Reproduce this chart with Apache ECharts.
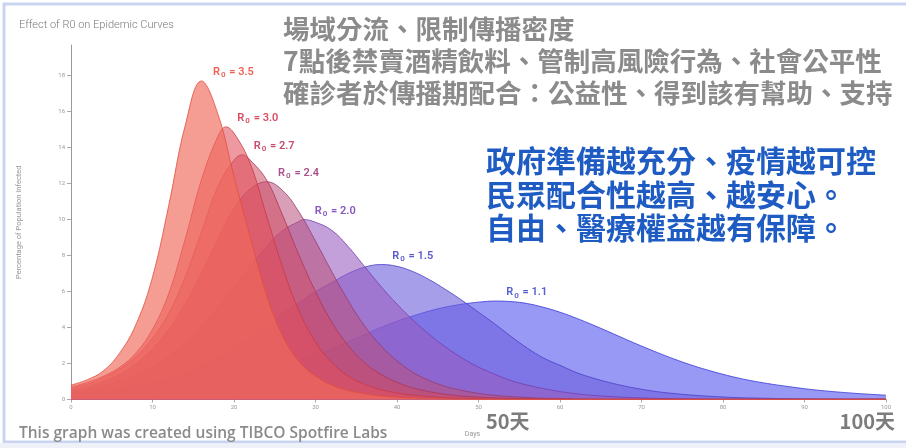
<!DOCTYPE html>
<html>
<head>
<meta charset="utf-8">
<script src="https://cdn.jsdelivr.net/npm/echarts@6/dist/echarts.min.js"></script>
<style>
  html, body { margin: 0; padding: 0; background: #fff; }
  #chart { width: 906px; height: 448px; }
</style>
</head>
<body>
<div id="chart"></div>
<script>
// Days since start (x axis)
const days = [0,2,4,6,8,10,12,14,16,18,20,22,24,26,28,30,32,34,36,38,40,42,44,46,48,50,
  52,54,56,58,60,62,64,66,68,70,72,74,76,78,80,82,84,86,88,90,92,94,96,98,100];

// Percentage of population infected, one curve per R0
const r35 = [0.8,1.1,1.6,2.6,4.2,6.8,10.8,15.2,17.7,15.9,12.4,9.0,5.8,3.5,2.1,1.3,0.8,0.5,0.32,0.2,0.13,0.08,0.05,0.03,0.02,0.01,
  0.01,0.01,0.01,0.01,0.01,0.01,0.01,0.01,0.01,0.01,0.01,0.01,0.01,0.01,0.01,0.01,0.01,0.01,0.01,0.01,0.01,0.01,0.01,0.01,0.01];
const r30 = [0.7,0.95,1.3,1.8,2.6,3.9,5.9,8.9,12.2,14.6,14.8,13.1,10.2,7.3,4.9,3.2,2.05,1.3,0.85,0.55,0.36,0.24,0.16,0.1,0.07,0.05,
  0.03,0.02,0.01,0.01,0.01,0.01,0.01,0.01,0.01,0.01,0.01,0.01,0.01,0.01,0.01,0.01,0.01,0.01,0.01,0.01,0.01,0.01,0.01,0.01,0.01];
const r27 = [0.6,0.85,1.2,1.7,2.4,3.4,4.8,6.8,9.3,11.8,13.3,13.3,12.2,10.2,8.0,6.0,4.3,3.0,2.05,1.4,0.95,0.64,0.43,0.29,0.19,0.13,
  0.09,0.06,0.04,0.03,0.02,0.01,0.01,0.01,0.01,0.01,0.01,0.01,0.01,0.01,0.01,0.01,0.01,0.01,0.01,0.01,0.01,0.01,0.01,0.01,0.01];
const r24 = [0.5,0.7,1.0,1.4,2.0,2.8,3.9,5.3,7.0,8.9,10.6,11.7,12.1,11.6,10.4,8.8,7.1,5.5,4.1,3.0,2.15,1.5,1.05,0.72,0.5,0.34,
  0.23,0.16,0.11,0.07,0.05,0.03,0.02,0.01,0.01,0.01,0.01,0.01,0.01,0.01,0.01,0.01,0.01,0.01,0.01,0.01,0.01,0.01,0.01,0.01,0.01];
const r20 = [0.4,0.55,0.75,1.0,1.35,1.8,2.4,3.15,4.1,5.1,6.2,7.4,8.5,9.4,9.9,9.85,9.4,8.5,7.4,6.3,5.3,4.4,3.6,2.9,2.3,1.8,
  1.4,1.05,0.8,0.6,0.44,0.32,0.23,0.17,0.12,0.09,0.06,0.045,0.03,0.02,0.01,0.01,0.01,0.01,0.01,0.01,0.01,0.01,0.01,0.01,0.01];
const r15 = [0.35,0.42,0.5,0.6,0.75,0.95,1.2,1.5,1.9,2.35,2.9,3.5,4.1,4.8,5.4,6.0,6.5,7.0,7.35,7.5,7.4,7.1,6.65,6.1,5.5,4.85,
  4.2,3.5,2.85,2.3,1.9,1.5,1.2,0.95,0.74,0.57,0.43,0.33,0.25,0.19,0.14,0.1,0.08,0.06,0.04,0.03,0.02,0.02,0.02,0.02,0.02];
const r11 = [0.3,0.36,0.42,0.5,0.58,0.67,0.77,0.88,1.0,1.13,1.28,1.45,1.65,1.88,2.15,2.45,2.8,3.2,3.6,4.0,4.35,4.65,4.92,5.14,5.3,5.41,
  5.47,5.44,5.33,5.12,4.85,4.52,4.15,3.76,3.36,2.97,2.6,2.25,1.93,1.65,1.4,1.18,1.0,0.85,0.72,0.6,0.5,0.42,0.35,0.29,0.24];

// Peak of each curve (day, percentage), added between the regular samples
const peakDays = [16, 19, 21, 24, 28.5, 38, 52];
const peakValues = [17.7, 15.15, 13.6, 12.1, 10.0, 7.5, 5.47];

// Curve names and tick labels
const r0Names = ['3.5','3.0','2.7','2.4','2.0','1.5','1.1'];
const curves = [r35, r30, r27, r24, r20, r15, r11];
const yTicks = [0,2,4,6,8,10,12,14,16,18];

// Styling per curve: fill, outline and label colours
const fillColors = ['#F26B5B','#E2505A','#D04A62','#B8507A','#9A5CC0','#6C5EDC','#5454EE'];
const edgeColors = ['#E0503F','#C93A48','#B03556','#963C70','#7440B0','#4A42C8','#3C3CD8'];
const labelColors = ['#EE6153','#DA4D60','#C64D6C','#A9528E','#8957BE','#5A58CE','#5560D0'];
const fillOpacity = [0.66,0.58,0.55,0.55,0.58,0.6,0.6];

function curvePoints(vals, i) {
  const pts = days.map((d, k) => [d, vals[k]]);
  const k = days.indexOf(peakDays[i]);
  if (k >= 0) {
    pts[k] = [peakDays[i], peakValues[i]];
  } else {
    pts.push([peakDays[i], peakValues[i]]);
    pts.sort((a, b) => a[0] - b[0]);
  }
  return pts;
}

const chart = echarts.init(document.getElementById('chart'), null, { renderer: 'canvas' });

// Draw the slow curves first so the fast (red) ones sit on top
const series = curves.map((vals, i) => ({
  type: 'line',
  name: 'R0 = ' + r0Names[i],
  data: curvePoints(vals, i),
  smooth: 0.4,
  symbol: 'none',
  z: 2 + (curves.length - i),
  lineStyle: { color: edgeColors[i], width: 0.9, opacity: 0.9 },
  areaStyle: { color: fillColors[i], opacity: fillOpacity[i] },
  markPoint: {
    symbol: 'circle',
    symbolSize: 1,
    itemStyle: { color: 'rgba(0,0,0,0)' },
    data: [{ type: 'max' }],
    label: {
      show: true,
      position: [12, -8],
      align: 'left',
      verticalAlign: 'middle',
      formatter: '{a|R}{b|0}{a| = ' + r0Names[i] + '}',
      rich: {
        a: { fontFamily: 'Roboto', fontSize: 11, fontWeight: 600, color: labelColors[i] },
        b: { fontFamily: 'Roboto', fontSize: 8, fontWeight: 600, color: labelColors[i], padding: [6, 1, 0, 1] }
      }
    }
  }
})).reverse();

const greyCJK = { fontFamily: 'Noto Sans CJK TC', fontSize: 26.5, fontWeight: 'bold', fill: '#8B8B8B' };
const blueCJK = { fontFamily: 'Noto Sans CJK TC', fontSize: 30, fontWeight: 'bold', fill: '#1E5CC4' };

chart.setOption({
  animation: false,
  backgroundColor: '#ffffff',
  grid: { left: 71, right: 20, top: 45, bottom: 48.5 },
  xAxis: {
    type: 'value',
    min: 0, max: 100, interval: 10,
    name: 'Days',
    nameLocation: 'middle',
    nameGap: 31,
    nameTextStyle: { fontFamily: 'Roboto', fontSize: 7, color: '#999', padding: [0, 12, 0, 0] },
    axisLine: { show: true, lineStyle: { color: '#999', width: 1 } },
    axisTick: { show: true, length: 3, lineStyle: { color: '#aaa' } },
    axisLabel: { fontFamily: 'Roboto', fontSize: 6, color: '#999', margin: 5 },
    splitLine: { show: false }
  },
  yAxis: {
    type: 'value',
    min: 0, max: 19.7,
    name: 'Percentage of Population Infected',
    nameLocation: 'middle',
    nameRotate: 90,
    nameGap: 48,
    nameTextStyle: { fontFamily: 'Roboto', fontSize: 7.5, color: '#999' },
    axisLine: { show: true, lineStyle: { color: '#999', width: 1 } },
    axisTick: { show: true, length: 4, customValues: yTicks, lineStyle: { color: '#aaa' } },
    axisLabel: { fontFamily: 'Roboto', fontSize: 6, color: '#999', margin: 6, customValues: yTicks },
    splitLine: { show: false }
  },
  graphic: [
    // screenshot frame
    { type: 'rect', silent: true, shape: { x: 4, y: 4, width: 905, height: 438 },
      style: { fill: 'none', stroke: '#C9D5F0', lineWidth: 3 } },
    { type: 'rect', silent: true, shape: { x: 0, y: 443, width: 906, height: 5 },
      style: { fill: '#EEF1F8' } },
    { type: 'text', left: 19, top: 20,
      style: { text: 'Effect of R0 on Epidemic Curves', fontFamily: 'Roboto', fontSize: 11, fontWeight: 300, fill: '#7a7a7a' } },
    { type: 'text', left: 283, top: 16, style: Object.assign({ text: '場域分流、限制傳播密度' }, greyCJK) },
    { type: 'text', left: 283, top: 48, style: Object.assign({ text: '7點後禁賣酒精飲料、管制高風險行為、社會公平性' }, greyCJK) },
    { type: 'text', left: 283, top: 80, style: Object.assign({ text: '確診者於傳播期配合：公益性、得到該有幫助、支持' }, greyCJK) },
    { type: 'text', left: 486, top: 146, style: Object.assign({ text: '政府準備越充分、疫情越可控' }, blueCJK) },
    { type: 'text', left: 486, top: 180, style: Object.assign({ text: '民眾配合性越高、越安心。' }, blueCJK) },
    { type: 'text', left: 486, top: 213, style: Object.assign({ text: '自由、醫療權益越有保障。' }, blueCJK) },
    { type: 'text', left: 486, top: 411,
      style: { text: '50天', fontFamily: 'Noto Sans CJK TC', fontSize: 20, fontWeight: 'bold', fill: '#7c7c7c' } },
    { type: 'text', right: 11, top: 411,
      style: { text: '100天', fontFamily: 'Noto Sans CJK TC', fontSize: 20, fontWeight: 'bold', fill: '#7c7c7c' } },
    { type: 'text', left: 19, top: 426,
      style: { text: 'This graph was created using TIBCO Spotfire Labs', fontFamily: 'Open Sans', fontSize: 15.5, fontWeight: 600, fill: '#8a8a8a' } }
  ],
  series: series
});
</script>
</body>
</html>
